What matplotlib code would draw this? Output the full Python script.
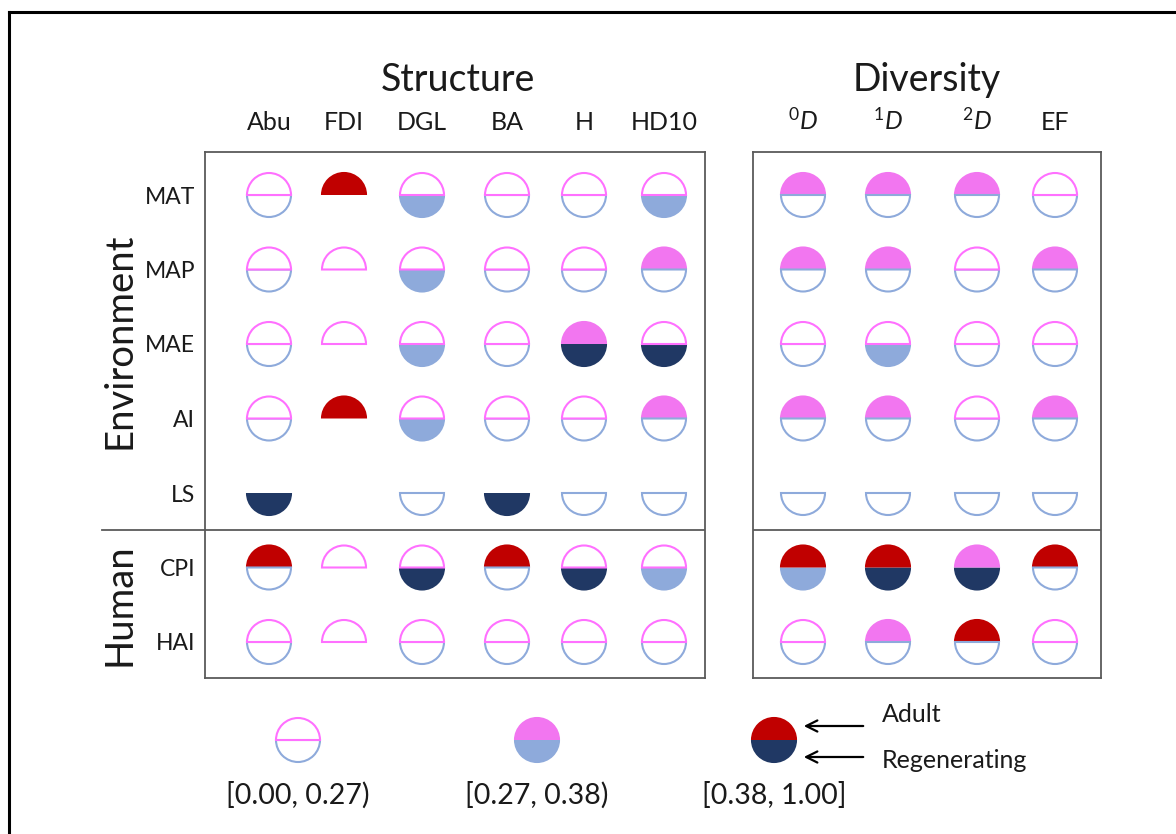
import matplotlib.pyplot as plt
from matplotlib.patches import Wedge

plt.rcParams['font.family'] = ['Lato', 'DejaVu Sans']
plt.rcParams['mathtext.fontset'] = 'custom'
plt.rcParams['mathtext.rm'] = 'Lato'
plt.rcParams['mathtext.it'] = 'Lato:italic'

rows = ['MAT', 'MAP', 'MAE', 'AI', 'LS', 'CPI', 'HAI']
structure_cols = ['Abu', 'FDI', 'DGL', 'BA', 'H', 'HD10']
diversity_cols = [r'$^{0}\mathit{D}$', r'$^{1}\mathit{D}$', r'$^{2}\mathit{D}$', 'EF']
class_labels = ['[0.00, 0.27)', '[0.27, 0.38)', '[0.38, 1.00]']

# class of each cell: 0 = [0.00, 0.27), 1 = [0.27, 0.38), 2 = [0.38, 1.00], None = not fitted
adult_structure = [
    [0, 2, 0, 0, 0, 0],
    [0, 0, 0, 0, 0, 1],
    [0, 0, 0, 0, 1, 0],
    [0, 2, 0, 0, 0, 1],
    [None, None, None, None, None, None],
    [2, 0, 0, 2, 0, 0],
    [0, 0, 0, 0, 0, 0],
]
regen_structure = [
    [0, None, 1, 0, 0, 1],
    [0, None, 1, 0, 0, 0],
    [0, None, 1, 0, 2, 2],
    [0, None, 1, 0, 0, 0],
    [2, None, 0, 2, 0, 0],
    [0, None, 2, 0, 2, 1],
    [0, None, 0, 0, 0, 0],
]
adult_diversity = [
    [1, 1, 1, 0],
    [1, 1, 0, 1],
    [0, 0, 0, 0],
    [1, 1, 0, 1],
    [None, None, None, None],
    [2, 2, 1, 2],
    [0, 1, 2, 0],
]
regen_diversity = [
    [0, 0, 0, 0],
    [0, 0, 0, 0],
    [0, 1, 0, 0],
    [0, 0, 0, 0],
    [0, 0, 0, 0],
    [1, 2, 2, 0],
    [0, 0, 0, 0],
]

# outline / light / dark for the adult (top) and regenerating (bottom) halves
top_colors = ['#FF70FF', '#F276F0', '#C00000']
bot_colors = ['#8EAADB', '#8EAADB', '#203864']

W, H = 1176, 834
R = 22
LW = 1.5
TXT = '#1a1a1a'

fig = plt.figure(figsize=(W / 100, H / 100), dpi=100)
base = fig.add_axes([0, 0, 1, 1])
base.set_xlim(0, W)
base.set_ylim(H, 0)
base.axis('off')


def half(ax, x, y, level, top):
    # y axes run downwards, so the upper half spans 180..360 degrees
    if level is None:
        return
    t1, t2 = (180, 360) if top else (0, 180)
    color = (top_colors if top else bot_colors)[level]
    if level == 0:
        w = Wedge((x, y), R, t1, t2, facecolor='white', edgecolor=color, lw=LW, zorder=3)
    else:
        w = Wedge((x, y), R + LW * 0.7, t1, t2, facecolor=color, edgecolor='none', zorder=2)
    ax.add_patch(w)


def panel(x0, x1, cols, col_x, adult, regen):
    y0, y1 = 152, 678
    ax = fig.add_axes([x0 / W, 1 - y1 / H, (x1 - x0) / W, (y1 - y0) / H])
    ax.set_xlim(0, x1 - x0)
    ax.set_ylim(y1 - y0, 0)
    row_y = [43 + 74.5 * i for i in range(len(rows))]
    for i in range(len(rows)):
        for j in range(len(cols)):
            half(ax, col_x[j], row_y[i], regen[i][j], False)
            half(ax, col_x[j], row_y[i], adult[i][j], True)
    ax.set_xticks(col_x)
    ax.set_xticklabels(cols, fontsize=18)
    ax.xaxis.tick_top()
    ax.tick_params(axis='x', length=0, pad=13, colors=TXT)
    ax.set_yticks([])
    for s in ax.spines.values():
        s.set_color('#5a5a5a')
        s.set_linewidth(1.3)
    sep = (row_y[4] + row_y[5]) / 2
    ax.axhline(sep, color='#5a5a5a', lw=1.3)
    return ax, row_y, sep


left, row_y, sep = panel(205, 705, structure_cols,
                         [64, 139, 217, 302, 379, 459],
                         adult_structure, regen_structure)
right, _, _ = panel(753, 1101, diversity_cols,
                    [50, 135, 224, 302],
                    adult_diversity, regen_diversity)

left.set_yticks(row_y)
left.set_yticklabels(rows, fontsize=16.5)
left.tick_params(axis='y', length=0, pad=7, colors=TXT)
left.plot([-103, 0], [sep, sep], color='#5a5a5a', lw=1.3, clip_on=False)

fig.text(458 / W, 1 - 80 / H, 'Structure', fontsize=27, ha='center', va='center', color=TXT)
fig.text(927 / W, 1 - 80 / H, 'Diversity', fontsize=27, ha='center', va='center', color=TXT)
fig.text(119 / W, 1 - 341 / H, 'Environment', fontsize=27.5, rotation=90, ha='center', va='center', color=TXT)
fig.text(119 / W, 1 - 605 / H, 'Human', fontsize=27.5, rotation=90, ha='center', va='center', color=TXT)

# outer frame
base.plot([9, 9], [12, H], color='black', lw=2.2)
base.plot([9, W], [12, 12], color='black', lw=2.2)

# legend of classes
leg_x = [298, 537, 774]
for k, x in enumerate(leg_x):
    half(base, x, 740, k, False)
    half(base, x, 740, k, True)
    base.text(x, 795, class_labels[k], fontsize=20.5, ha='center', va='center', color=TXT)

for ya, yt, txt in [(726, 714, 'Adult'), (757, 761, 'Regenerating')]:
    base.annotate('', xy=(801, ya), xytext=(866, ya),
                  arrowprops=dict(arrowstyle='->', color='black', lw=1.6, mutation_scale=20))
    base.text(882, yt, txt, fontsize=18, ha='left', va='center', color=TXT)

fig.savefig('out.png', dpi=100)
